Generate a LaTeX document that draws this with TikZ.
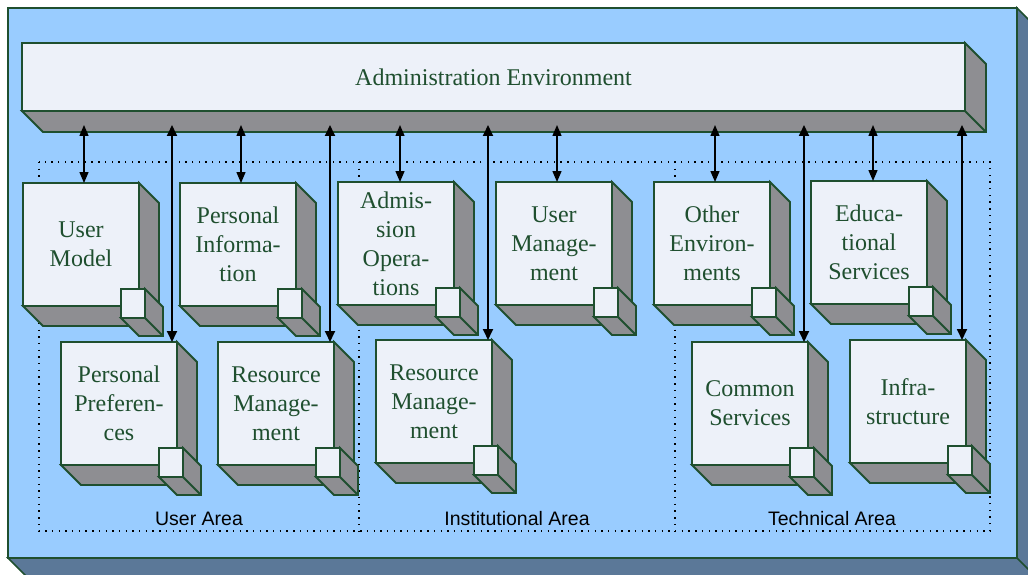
\documentclass[tikz,border=0pt]{standalone}
\usepackage{fontspec}
\setmainfont{Liberation Serif}
\newfontfamily\labfont{Liberation Sans}
\usetikzlibrary{arrows.meta,calc}
\definecolor{bgfront}{HTML}{99CCFF}
\definecolor{bgside}{HTML}{5B7898}
\definecolor{boxfront}{HTML}{EDF1F9}
\definecolor{boxside}{HTML}{8E8E92}
\definecolor{edgecol}{HTML}{1F4F2F}
\newcommand\cubebox[4]{%
  \node[front] (#1) at (#2,#3) {#4};
  \draw[ext] (#1.north east) -- ++(20,20) -- ($(#1.south east)+(20,20)$) -- ($(#1.south west)+(20,20)$) -- (#1.south west) -- (#1.south east) -- cycle;
  \draw[ext] (#1.south east) -- ++(20,20);
  \node[smallfront] (#1s) at ($(#1.south east)+(-18,-17)$) {};
  \draw[ext] (#1s.north east) -- ++(18,18) -- ($(#1s.south east)+(18,18)$) -- ($(#1s.south west)+(18,18)$) -- (#1s.south west) -- (#1s.south east) -- cycle;
  \draw[ext] (#1s.south east) -- ++(18,18);
}
\begin{document}
\begin{tikzpicture}[x=1pt,y=-1pt,
  front/.style={draw=edgecol, fill=boxfront, line width=1.8pt, outer sep=0pt, inner sep=0pt,
    minimum width=116pt, minimum height=123pt, align=center, text=edgecol,
    font=\fontsize{24}{29}\selectfont, anchor=north west},
  smallfront/.style={draw=edgecol, fill=boxfront, line width=1.8pt, outer sep=0pt, inner sep=0pt,
    minimum width=24pt, minimum height=29pt, anchor=north west},
  ext/.style={draw=edgecol, fill=boxside, line width=1.8pt},
  dbl/.style={draw=black, line width=1.4pt, {Triangle[length=11pt,width=9pt]}-{Triangle[length=11pt,width=9pt]}},
  dbllong/.style={draw=black, line width=1.8pt, {Triangle[length=11pt,width=10pt]}-{Triangle[length=11pt,width=10pt]}},
  area/.style={draw=black, line width=1.4pt, dash pattern=on 1.4pt off 5.3pt},
  lab/.style={font=\labfont\fontsize{19.5}{22}\selectfont, text=black, inner sep=0pt}
  ]
\useasboundingbox (0,0) rectangle (1028,575);
\clip (0,0) rectangle (1028,575);
% background slab
\fill[white] (0,0) rectangle (1028,575);
\draw[draw=edgecol, fill=bgside, line width=1.6pt] (1017,8) -- (1040,31) -- (1040,581) -- (31,581) -- (8,558) -- (1017,558) -- cycle;
\draw[draw=edgecol, line width=1.6pt] (1017,558) -- (1040,581);
\node[draw=edgecol, fill=bgfront, line width=1.6pt, outer sep=0pt, inner sep=0pt, anchor=north west,
  minimum width=1009pt, minimum height=550pt] (bg) at (8,8) {};
% areas
\draw[area] (39,162) rectangle (990,531);
\draw[area] (359,162) -- (359,531);
\draw[area] (675,162) -- (675,531);
\node[lab] (la1) at (199,519) {User Area};
\node[lab] (la2) at (517,519) {Institutional Area};
\node[lab] (la3) at (832,519) {Technical Area};
% admin bar
\node[front, minimum width=943pt, minimum height=68pt] (bar) at (22,43) {Administration Environment};
\draw[ext] (bar.north east) -- ++(21,21) -- ($(bar.south east)+(21,21)$) -- ($(bar.south west)+(21,21)$) -- (bar.south west) -- (bar.south east) -- cycle;
\draw[ext] (bar.south east) -- ++(21,21);
% row 1
\cubebox{um}{23}{183}{User\\Model}
\cubebox{pi}{180}{183}{Personal\\Informa-\\tion}
\cubebox{ao}{338}{182}{Admis-\\sion\\Opera-\\tions}
\cubebox{usm}{496}{182}{User\\Manage-\\ment}
\cubebox{oe}{654}{182}{Other\\Environ-\\ments}
\cubebox{es}{811}{181}{Educa-\\tional\\Services}
% row 2
\cubebox{pp}{61}{342}{Personal\\Preferen-\\ces}
\cubebox{rm}{218}{342}{Resource\\Manage-\\ment}
\cubebox{irm}{376}{340}{Resource\\Manage-\\ment}
\cubebox{cs}{692}{342}{Common\\Services}
\cubebox{inf}{850}{340}{Infra-\\structure}
% connectors
\foreach \n/\x in {um/84, pi/241, ao/400, usm/557, oe/715, es/873}{
  \coordinate (t\n) at (\x,125);
  \draw[dbl] (t\n) -- (t\n |- \n.north);
}
\foreach \n/\x in {pp/172, rm/330, irm/488, cs/804, inf/962}{
  \coordinate (t\n) at (\x,125);
  \draw[dbllong] (t\n) -- (t\n |- \n.north);
}
\end{tikzpicture}
\end{document}
